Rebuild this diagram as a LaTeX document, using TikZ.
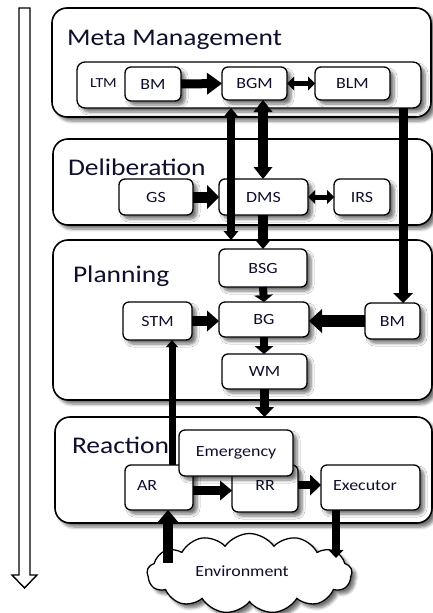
\documentclass[tikz,border=0pt]{standalone}
\usepackage{fontspec}
\newfontfamily\calib[FakeStretch=1.15]{Carlito}
\usetikzlibrary{arrows.meta,shapes.symbols,shadows.blur}
\definecolor{txt}{RGB}{15,15,45}
\newcommand\mylbl{\calib\fontsize{15.6}{18}\selectfont}
\newcommand\mysmall{\calib\fontsize{13.8}{16}\selectfont}
\newcommand\myttl{\calib\fontsize{23.9}{28}\selectfont}
\begin{document}
\begin{tikzpicture}[x=1pt,y=-1pt,
  every node/.style={inner sep=0pt, outer sep=0pt},
  sh/.style={blur shadow={shadow xshift=4pt,shadow yshift=-4pt,shadow blur radius=3pt,shadow blur steps=6,shadow opacity=55}},
  layer/.style={draw=black, line width=1.6pt, rounded corners=15pt, fill=white, sh},
  ltmbox/.style={draw=black, line width=1.3pt, rounded corners=8pt, fill=white, sh},
  box/.style={draw=black, line width=1.3pt, rounded corners=6pt, fill=white, sh, text=txt, font=\mylbl},
  ttl/.style={anchor=base west, text=txt, font=\myttl},
  lab/.style={text=txt, font=\mylbl},
  fat/.style args={#1/#2/#3}{line width=#1pt, -{Triangle[width=#2pt,length=#3pt,line width=0pt]}},
  dfat/.style args={#1/#2/#3}{line width=#1pt, {Triangle[width=#2pt,length=#3pt,line width=0pt]}-{Triangle[width=#2pt,length=#3pt,line width=0pt]}},
]
\useasboundingbox (0,0) rectangle (433,613);

% left hollow arrow
\draw[line width=1.4pt, line join=miter] (19,8) -- (30,8) -- (30,575) -- (37,575) -- (24.5,588) -- (12,575) -- (19,575) -- cycle;

% layers
\node[layer, minimum width=379pt, minimum height=109pt] (meta) at (241.5,62.5) {};
\node[ttl] (metat) at (67,45) {Meta Management};
\node[ltmbox, minimum width=344pt, minimum height=46pt] (ltm) at (249,85) {};
\node[anchor=base west, text=txt, font=\mysmall] (ltmt) at (90,87) {LTM};
\node[box, minimum width=56pt, minimum height=34pt] (bm1) at (153,84) {BM};
\node[box, minimum width=65pt, minimum height=33pt] (bgm) at (254.5,83.5) {BGM};
\node[box, minimum width=75pt, minimum height=33pt] (blm) at (352.5,83.5) {BLM};

\node[layer, minimum width=379pt, minimum height=86pt] (delib) at (242.5,182) {};
\node[ttl] (delibt) at (68,175) {Deliberation};
\node[box, minimum width=74pt, minimum height=36pt] (gs) at (156,197) {GS};
\node[box, minimum width=89pt, minimum height=36pt] (dms) at (263.5,197) {DMS};
\node[box, minimum width=56pt, minimum height=36pt] (irs) at (362,197) {IRS};

\node[layer, minimum width=379pt, minimum height=160pt] (plan) at (242.5,320) {};
\node[ttl] (plant) at (73,282) {Planning};
\node[box, minimum width=88pt, minimum height=38pt] (bsg) at (263,268) {BSG};
\node[box, minimum width=90pt, minimum height=35pt] (bg) at (264,319.5) {BG};
\node[box, minimum width=69pt, minimum height=38pt] (stm) at (157.5,321) {STM};
\node[box, minimum width=55pt, minimum height=36pt] (bm2) at (392.5,321) {BM};
\node[box, minimum width=85pt, minimum height=35pt] (wm) at (264.5,371.5) {WM};

\node[layer, minimum width=377pt, minimum height=106pt] (react) at (243.5,470) {};
\node[ttl] (reactt) at (72,453) {Reaction};
\node[box, minimum width=68pt, minimum height=45pt] (ar) at (159,487.5) {};
\node[lab, anchor=base west] (art) at (137,490) {AR};
\node[box, minimum width=66pt, minimum height=47pt] (rr) at (265,488.5) {};
\node[lab, anchor=base] (rrt) at (265,490) {RR};
\node[box, minimum width=99pt, minimum height=45pt] (exe) at (370.5,487.5) {};
\node[lab, anchor=base] (exet) at (365,490) {Executor};
\node[box, minimum width=114pt, minimum height=46pt] (emerg) at (236,453) {Emergency};

\node[cloud, draw=black, line width=1.3pt, fill=white, sh, cloud puffs=13, cloud puff arc=110, aspect=2.5, minimum width=205pt, minimum height=80pt] (env) at (249.5,573.5) {};
\node[lab] (envt) at (242,571) {Environment};

% helper coordinates
\coordinate (c231) at (231,0);
\coordinate (c263) at (263,0);
\coordinate (c403) at (403,0);
\coordinate (c172) at (172,0);
\coordinate (envin) at (336,558);
\coordinate (envout) at (168,563);

% connectors
\draw[fat=9/22/15] (bm1.east) -- (bgm.west);
\draw[dfat=4.5/14/7] (bgm.east) -- (blm.west);
\draw[dfat=8/15/9] (ltm.south -| c231) -- (plan.north -| c231);
\draw[dfat=10/19/12] (bgm.south -| c263) -- (dms.north -| c263);
\draw[fat=10/17/10] (dms.south -| c263) -- (bsg.north -| c263);
\draw[fat=9/20/10] (ltm.south -| c403) -- (bm2.north -| c403);
\draw[fat=11/24/12] (gs.east) -- (dms.west);
\draw[dfat=5/14/7] (dms.east) -- (irs.west);
\draw[fat=8/19/7] (bsg.south) -- (bg.north);
\draw[fat=10/21/12] (stm.east) -- (stm.east -| bg.west);
\draw[fat=12/24/13] (bm2.west) -- (bm2.west -| bg.east);
\draw[fat=8/19/8] (bg.south) -- (bg.south |- wm.north);
\draw[fat=9/19/10] (wm.south) -- (wm.south |- react.north);
\draw[fat=7/12/7] (ar.north -| c172) -- (stm.south -| c172);
\draw[fat=9/20/12] ([yshift=-3pt]ar.east) -- ([yshift=-3pt]ar.east -| rr.west);
\draw[fat=8/21/11] (rr.east |- exet.center) -- (exe.west |- exet.center);
\draw[fat=8/15/8] (exe.south -| envin) -- (envin);
\draw[fat=10/22/13] (envout) -- (ar.south -| envout);
\end{tikzpicture}
\end{document}
